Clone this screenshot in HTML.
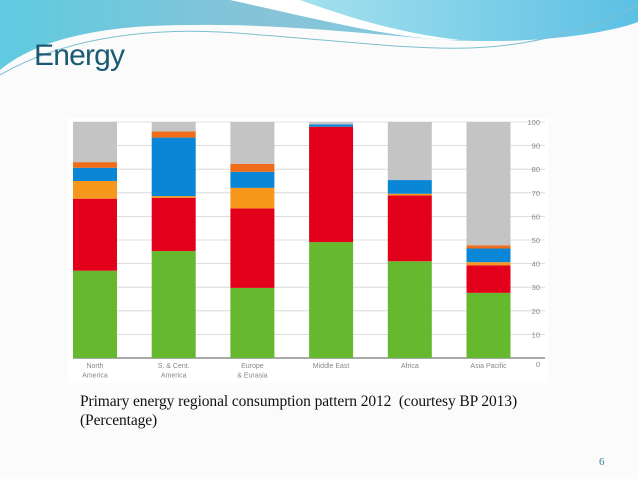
<!DOCTYPE html>
<html><head><meta charset="utf-8"><style>
body{margin:0;width:638px;height:479px;overflow:hidden;background:#fbfbfb;position:relative;font-family:"Liberation Sans",sans-serif}
#title{position:absolute;left:34px;top:38px;font-size:30px;line-height:36px;color:#1b5a74;margin:0;font-weight:normal;letter-spacing:-0.8px}
#cap{position:absolute;left:80px;top:392px;font-family:"Liberation Serif",serif;font-size:15.5px;line-height:19px;color:#111;letter-spacing:-0.1px}
#pg{position:absolute;left:599px;top:456px;font-family:"Liberation Serif",serif;font-size:11px;color:#3b7fa0}
</style></head><body>
<svg width="638" height="90" style="position:absolute;left:0;top:0">
<defs>
<linearGradient id="g1" x1="0" y1="0" x2="1" y2="0"><stop offset="0" stop-color="#5fcbe0"/><stop offset="0.4" stop-color="#86c3d8"/><stop offset="1" stop-color="#7fd0e6"/></linearGradient>
<linearGradient id="g2" x1="0" y1="0" x2="1" y2="0"><stop offset="0" stop-color="#a9e3ee"/><stop offset="1" stop-color="#5cc0e4"/></linearGradient>
</defs>
<path d="M0 0H638V20C560 40 500 45 420 38C330 30 250 22 150 26C80 30 30 45 0 70Z" fill="url(#g1)"/>
<path d="M280 0H638V22C600 36 520 44 460 40C400 36 340 14 280 0Z" fill="url(#g2)"/>
<path d="M230 0H300C340 14 390 32 460 40C400 40 330 22 230 0Z" fill="#ffffff"/>
<path d="M0 75C60 40 140 28 220 32C320 38 400 50 470 48C540 46 600 25 638 5" fill="none" stroke="#7dbfd0" stroke-width="1"/>
</svg>
<h1 id="title">Energy</h1>
<svg id="chart" width="638" height="479" style="position:absolute;left:0;top:0"></svg>
<div id="cap">Primary energy regional consumption pattern 2012&nbsp; (courtesy BP 2013)<br>(Percentage)</div>
<div id="pg">6</div>
<script>
const categories=[["North","America"],["S. & Cent.","America"],["Europe","& Eurasia"],["Middle East"],["Africa"],["Asia Pacific"]];
const green=[37,45.3,29.7,49.1,41,27.6];
const red=[30.5,22.6,33.7,48.9,27.9,11.7];
const amber=[7.5,0.7,8.7,0,0.7,1.3];
const blue=[5.6,24.8,6.8,1,5.8,5.8];
const darkOrange=[2.4,2.6,3.4,0,0,1.3];
const gray=[17,4,17.7,1,24.6,52.3];
const ticks=[0,10,20,30,40,50,60,70,80,90,100];
const seriesList=[["green",green,"#66b82e"],["red",red,"#e2001a"],["amber",amber,"#f7971c"],["blue",blue,"#0a86d6"],["dark-orange",darkOrange,"#ee6c1a"],["gray",gray,"#c4c4c4"]];
const NS="http://www.w3.org/2000/svg";
const svg=document.getElementById('chart');
const y=v=>358-v*2.36;
const x=i=>73+i*78.7;
const bw=44;
function mk(t,a){const e=document.createElementNS(NS,t);for(const k in a)e.setAttribute(k,a[k]);svg.appendChild(e);return e;}
const bg=mk('rect',{x:68,y:118,width:480,height:265,fill:'#ffffff'});


ticks.forEach(t=>{
 const l=mk('line',{x1:73,x2:545,y1:y(t),y2:y(t),stroke:t===0?'#555':'#d4d4d4','stroke-width':t===0?1:0.8});
 
 
 const tx=mk('text',{x:540,y:y(t)+(t===0?9:3),'text-anchor':'end','font-size':7.5,fill:'#888'});
 tx.textContent=t;
 
 
});
categories.forEach((c,i)=>{
 let base=0;
 seriesList.forEach(s=>{
  const v=s[1][i];
  if(v>0){
   const r=mk('rect',{x:x(i),y:y(base+v),width:bw,height:v*2.36,fill:s[2]});
   
   
  }
  base+=v;
 });
 c.forEach((ln,j)=>{
  const t=mk('text',{x:x(i)+bw/2,y:368+j*9.5,'text-anchor':'middle','font-size':7,fill:'#888'});
  t.textContent=ln;
  
  
 });
});
</script>
</body></html>
